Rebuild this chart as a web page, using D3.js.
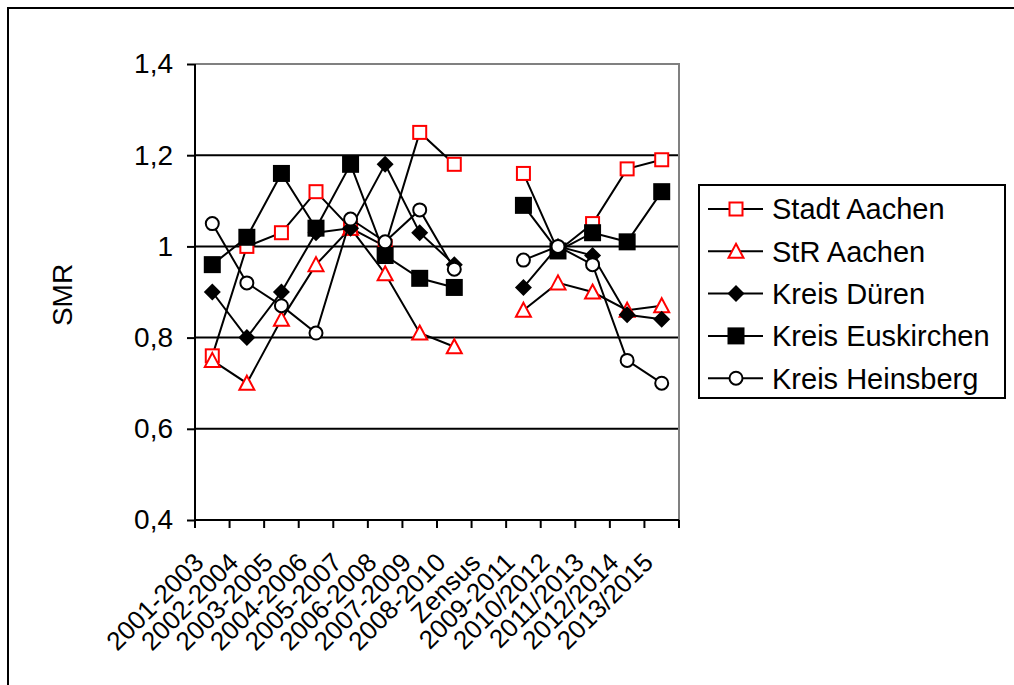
<!DOCTYPE html>
<html>
<head>
<meta charset="utf-8">
<script src="https://cdn.jsdelivr.net/npm/d3@7"></script>
<style>
  html, body { margin: 0; padding: 0; background: #fff; }
  svg { display: block; font-family: "Liberation Sans", Arial, sans-serif; }
</style>
</head>
<body>
<svg id="chart" width="1014" height="685"></svg>
<script>
const categories = ["2001-2003","2002-2004","2003-2005","2004-2006","2005-2007","2006-2008","2007-2009","2008-2010","Zensus","2009-2011","2010/2012","2011/2013","2012/2014","2013/2015"];
const stadtAachen    = [0.76,1.00,1.03,1.12,1.04,1.00,1.25,1.18,null,1.16,0.99,1.05,1.17,1.19];
const strAachen      = [0.75,0.70,0.84,0.96,1.04,0.94,0.81,0.78,null,0.86,0.92,0.90,0.86,0.87];
const kreisDueren    = [0.90,0.80,0.90,1.03,1.04,1.18,1.03,0.96,null,0.91,1.00,0.98,0.85,0.84];
const kreisEuskirchen= [0.96,1.02,1.16,1.04,1.18,0.98,0.93,0.91,null,1.09,0.99,1.03,1.01,1.12];
const kreisHeinsberg = [1.05,0.92,0.87,0.81,1.06,1.01,1.08,0.95,null,0.97,1.00,0.96,0.75,0.70];
const seriesNames = ["Stadt Aachen","StR Aachen","Kreis Düren","Kreis Euskirchen","Kreis Heinsberg"];
const yTicks = [0.4,0.6,0.8,1.0,1.2,1.4];
const yTickLabels = ["0,4","0,6","0,8","1","1,2","1,4"];
const yTitle = "SMR";

const seriesData = [stadtAachen, strAachen, kreisDueren, kreisEuskirchen, kreisHeinsberg];
const markerTypes = ["squareOpen","triangleOpen","diamond","squareFilled","circleOpen"];

const svg = d3.select("#chart");
const plot = {left:195, right:679, top:64, bottom:520};

const x = d3.scaleBand().domain(categories).range([plot.left, plot.right]).padding(0);
const cx = c => x(c) + x.bandwidth()/2;
const y = d3.scaleLinear().domain([0.4,1.4]).range([plot.bottom, plot.top]);

// outer frame
svg.append("rect").attr("x",8).attr("y",8).attr("width",1020).attr("height",700)
  .attr("fill","none").attr("stroke","#000").attr("stroke-width",2);

// gridlines
svg.append("g").selectAll("line").data(yTicks.filter(v => v > 0.41 && v < 1.39)).join("line")
  .attr("x1",plot.left).attr("x2",plot.right)
  .attr("y1",d=>y(d)).attr("y2",d=>y(d))
  .attr("stroke","#000").attr("stroke-width",2);

// plot border (top/right gray)
svg.append("path")
  .attr("d",`M${plot.left},${y(1.4)}H${plot.right}V${plot.bottom}`)
  .attr("fill","none").attr("stroke","#808080").attr("stroke-width",2);

// y axis
const yAxis = d3.axisLeft(y).tickValues(yTicks).tickSize(8)
  .tickFormat((d,i)=>yTickLabels[i]);
const gy = svg.append("g").attr("transform",`translate(${plot.left},0)`).call(yAxis);
gy.select(".domain").attr("stroke","#000").attr("stroke-width",2).attr("d",`M0,${plot.top}V${plot.bottom}`);
gy.selectAll(".tick line").attr("stroke","#000").attr("stroke-width",2);
gy.selectAll(".tick text").attr("x",-22).attr("font-size",28).attr("fill","#000")
  .attr("font-family","'Liberation Sans', Arial, sans-serif");

// x axis
const gx = svg.append("g").attr("transform",`translate(0,${plot.bottom})`);
gx.append("line").attr("x1",plot.left).attr("x2",plot.right).attr("y1",0).attr("y2",0)
  .attr("stroke","#000").attr("stroke-width",2);
const boundaries = categories.map(c => x(c)).concat([plot.right]);
gx.selectAll("line.tk").data(boundaries).join("line").attr("class","tk")
  .attr("x1",d=>d).attr("x2",d=>d).attr("y1",0).attr("y2",8)
  .attr("stroke","#000").attr("stroke-width",2);
gx.selectAll("text").data(categories).join("text")
  .attr("transform",d=>`translate(${cx(d)-7},${44}) rotate(-45)`)
  .attr("text-anchor","end")
  .attr("font-size",26).attr("fill","#000")
  .text(d=>d);

// y title
svg.append("text").attr("transform","translate(72,295) rotate(-90)")
  .attr("text-anchor","middle").attr("font-size",28).attr("fill","#000").text(yTitle);

// marker drawing
function drawMarker(g, type, px, py) {
  const red = "#ff0000";
  if (type === "squareOpen") {
    g.append("rect").attr("x",px-6.5).attr("y",py-6.5).attr("width",13).attr("height",13)
      .attr("fill","#fff").attr("stroke",red).attr("stroke-width",2);
  } else if (type === "triangleOpen") {
    g.append("path").attr("d",`M${px},${py-7.5}L${px+7.5},${py+6.5}L${px-7.5},${py+6.5}Z`)
      .attr("fill","#fff").attr("stroke",red).attr("stroke-width",2);
  } else if (type === "diamond") {
    g.append("path").attr("d",`M${px},${py-8.5}L${px+8.5},${py}L${px},${py+8.5}L${px-8.5},${py}Z`)
      .attr("fill","#000");
  } else if (type === "squareFilled") {
    g.append("rect").attr("x",px-8.5).attr("y",py-8.5).attr("width",17).attr("height",17)
      .attr("fill","#000");
  } else if (type === "circleOpen") {
    g.append("circle").attr("cx",px).attr("cy",py).attr("r",6.5)
      .attr("fill","#fff").attr("stroke","#000").attr("stroke-width",2);
  }
}

const line = d3.line()
  .defined(d => d.v !== null)
  .x(d => cx(d.c)).y(d => y(d.v));

seriesData.forEach((vals, si) => {
  const pts = categories.map((c,i)=>({c, v: vals[i]}));
  const g = svg.append("g");
  g.append("path").datum(pts).attr("d", line)
    .attr("fill","none").attr("stroke","#000").attr("stroke-width",2);
  pts.filter(p=>p.v!==null).forEach(p => drawMarker(g, markerTypes[si], cx(p.c), y(p.v)));
});

// legend
const lg = svg.append("g");
lg.append("rect").attr("x",699).attr("y",185).attr("width",306).attr("height",213)
  .attr("fill","#fff").attr("stroke","#000").attr("stroke-width",2);
seriesNames.forEach((name, i) => {
  const ly = 209 + i*42.3;
  const g = lg.append("g");
  g.append("line").attr("x1",708).attr("x2",763).attr("y1",ly).attr("y2",ly)
    .attr("stroke","#000").attr("stroke-width",2);
  drawMarker(g, markerTypes[i], 736, ly);
  g.append("text").attr("x",772).attr("y",ly).attr("dy","0.36em")
    .attr("font-size",29).attr("fill","#000").text(name);
});
</script>
</body>
</html>
